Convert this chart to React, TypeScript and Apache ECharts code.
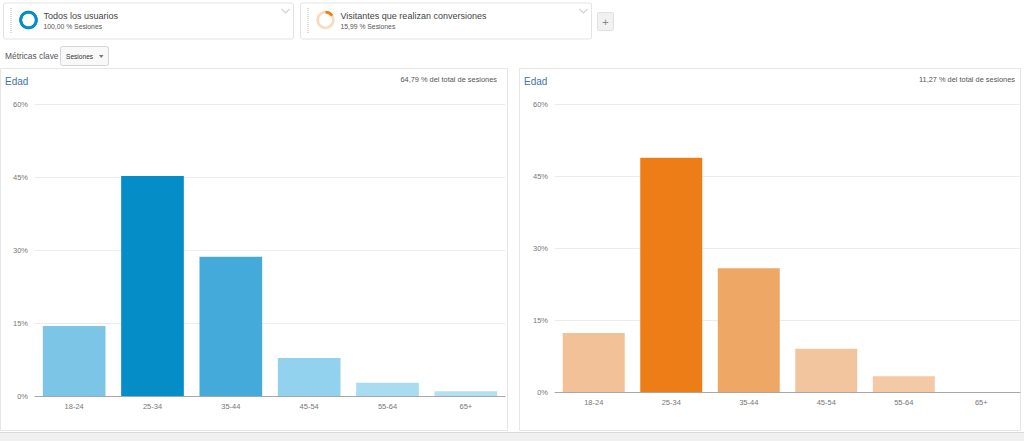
import React, { useEffect, useRef } from "react";
import * as echarts from "echarts";

const categories = ["18-24", "25-34", "35-44", "45-54", "55-64", "65+"];
const allUsersValues = [14.4, 45.2, 28.6, 7.8, 2.7, 1.0];
const conversionValues = [12.3, 48.8, 25.8, 9.0, 3.3, 0.0];
const yTicks = [0, 15, 30, 45, 60];
const allUsersTotal = "64,79 % del total de sesiones";
const conversionTotal = "11,27 % del total de sesiones";
const segments = [
  { name: "Todos los usuarios", share: "100,00 % Sesiones", pct: 100 },
  { name: "Visitantes que realizan conversiones", share: "15,99 % Sesiones", pct: 15.99 },
];

const blueColors = ["#7cc5e6", "#058dc7", "#43aad9", "#93d2ee", "#a9dbf1", "#b3dff2"];
const orangeColors = ["#f2c197", "#ed7e17", "#efa765", "#f2c59f", "#f3caa5", "#f5d3b5"];

const FONT = "Arial, 'Liberation Sans', sans-serif";

export default function App() {
  const ref = useRef<HTMLDivElement>(null);
  useEffect(() => {
    if (!ref.current) return;
    const chart = echarts.init(ref.current, undefined, { renderer: "svg" });

    const card = (x: number, w: number, seg: any, color: string, trackColor: string) => {
      const cx = x + 25;
      const cy = 20;
      const els: any[] = [
        { type: "rect", shape: { x, y: 3, width: w, height: 36, r: 2 }, style: { fill: "#fff", stroke: "#e3e3e3", lineWidth: 1 } },
        { type: "line", shape: { x1: x + 7.5, y1: 8, x2: x + 7.5, y2: 34 }, style: { stroke: "#dadada", lineWidth: 2, lineDash: [1, 1] } },
        { type: "circle", shape: { cx, cy, r: 7.8 }, style: { fill: "none", stroke: trackColor, lineWidth: 2.8 } },
        {
          type: "arc",
          shape: { cx, cy, r: 7.8, startAngle: -Math.PI / 2, endAngle: -Math.PI / 2 + (seg.pct / 100) * Math.PI * 2 - (seg.pct >= 100 ? 0.0001 : 0), clockwise: true },
          style: { fill: "none", stroke: color, lineWidth: 2.8 },
        },
        { type: "text", x: x + 40, y: 16, style: { text: seg.name, fontSize: 9, fill: "#444", fontFamily: FONT, verticalAlign: "middle" } },
        { type: "text", x: x + 40, y: 26.5, style: { text: seg.share, fontSize: 6.8, fill: "#555", fontFamily: FONT, verticalAlign: "middle" } },
        { type: "polyline", shape: { points: [[x + w - 12, 9], [x + w - 8, 13], [x + w - 4, 9]] }, style: { stroke: "#d2d2d2", lineWidth: 1.2, fill: "none" } },
      ];
      return els;
    };

    const panel = (x: number, w: number, total: string, pad: number) => [
      { type: "rect", shape: { x: x + 0.5, y: 68.5, width: w, height: 362 }, style: { fill: "#fff", stroke: "#e6e6e6", lineWidth: 1 } },
      { type: "text", x: x + 5, y: 81, style: { text: "Edad", fontSize: 10, fill: "#3f73a6", fontFamily: FONT, verticalAlign: "middle" } },
      { type: "text", x: x + w - pad, y: 79.5, style: { text: total, fontSize: 7.4, fill: "#555", fontFamily: FONT, align: "right", verticalAlign: "middle" } },
    ];

    const graphics: any[] = [
      ...card(3.5, 290, segments[0], "#058dc7", "#058dc7"),
      ...card(300.5, 291, segments[1], "#ed7e17", "#f8dcc2"),
      { type: "rect", shape: { x: 597.5, y: 12.5, width: 16, height: 18, r: 1 }, style: { fill: "#f1f1f1", stroke: "#e0e0e0", lineWidth: 1 } },
      { type: "text", x: 605.5, y: 21.5, style: { text: "+", fontSize: 11, fill: "#888", fontFamily: FONT, align: "center", verticalAlign: "middle" } },
      { type: "text", x: 5, y: 56, style: { text: "Métricas clave", fontSize: 8.4, fill: "#555", fontFamily: FONT, verticalAlign: "middle" } },
      { type: "rect", shape: { x: 60.5, y: 46.5, width: 48, height: 19, r: 2 }, style: { fill: "#f8f8f8", stroke: "#d4d4d4", lineWidth: 1 } },
      { type: "text", x: 66, y: 56.5, style: { text: "Sesiones", fontSize: 6.6, fill: "#333", fontFamily: FONT, verticalAlign: "middle" } },
      { type: "polygon", shape: { points: [[99, 55], [103.5, 55], [101.25, 58]] }, style: { fill: "#777" } },
      ...panel(0, 507, allUsersTotal, 10),
      ...panel(519, 501, conversionTotal, 5),
      { type: "rect", shape: { x: 0, y: 432, width: 1024, height: 9 }, style: { fill: "#f0f0f0" } },
      { type: "line", shape: { x1: 0, y1: 432.5, x2: 1024, y2: 432.5 }, style: { stroke: "#d9d9d9", lineWidth: 1 } },
    ];

    const yAxisBase = (gridIndex: number) => ({
      type: "value",
      gridIndex,
      min: yTicks[0],
      max: yTicks[yTicks.length - 1],
      interval: 15,
      axisLabel: { formatter: "{value}%", fontSize: 7.5, color: "#777", fontFamily: FONT, margin: 7 },
      axisLine: { show: false },
      axisTick: { show: false },
      splitLine: { lineStyle: { color: "#ececec", width: 1 } },
    });
    const xAxisBase = (gridIndex: number) => ({
      type: "category",
      gridIndex,
      data: categories,
      axisLabel: { fontSize: 7.5, color: "#777", fontFamily: FONT, margin: 6 },
      axisLine: { lineStyle: { color: "#a8a8a8", width: 1 } },
      axisTick: { show: false },
    });

    chart.setOption({
      animation: false,
      graphic: graphics,
      grid: [
        { left: 35, right: 519, top: 104, bottom: 45 },
        { left: 555, right: 4, top: 104, bottom: 49 },
      ],
      xAxis: [xAxisBase(0), xAxisBase(1)],
      yAxis: [yAxisBase(0), yAxisBase(1)],
      series: [
        {
          type: "bar",
          xAxisIndex: 0,
          yAxisIndex: 0,
          barCategoryGap: "20%",
          data: allUsersValues.map((v, i) => ({ value: v, itemStyle: { color: blueColors[i] } })),
        },
        {
          type: "bar",
          xAxisIndex: 1,
          yAxisIndex: 1,
          barCategoryGap: "20%",
          data: conversionValues.map((v, i) => ({ value: v, itemStyle: { color: orangeColors[i] } })),
        },
      ],
    });
    return () => chart.dispose();
  }, []);

  return (
    <div
      ref={ref}
      style={{ position: "absolute", left: 0, top: 0, width: 1024, height: 441, background: "#fff" }}
    />
  );
}
